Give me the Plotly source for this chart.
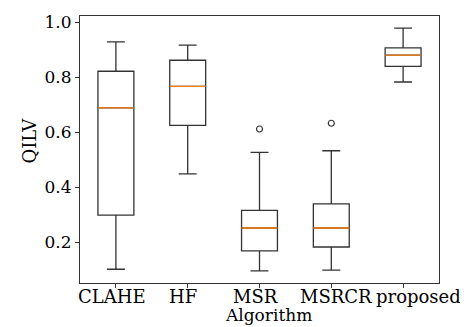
import plotly.graph_objects as go

categories = ["CLAHE", "HF", "MSR", "MSRCR", "proposed"]
lower_whisker = [0.102, 0.449, 0.096, 0.099, 0.783]
q1_vals = [0.299, 0.625, 0.169, 0.183, 0.840]
median_vals = [0.689, 0.767, 0.252, 0.252, 0.881]
q3_vals = [0.822, 0.862, 0.316, 0.340, 0.907]
upper_whisker = [0.929, 0.917, 0.527, 0.533, 0.979]
outlier_cats = ["MSR", "MSRCR"]
outlier_vals = [0.612, 0.633]
y_ticks = [0.2, 0.4, 0.6, 0.8, 1.0]

xpos = {c: i + 1 for i, c in enumerate(categories)}
label_shift = [-3.5, -5, -4, 5, 15]
FONT = "DejaVu Serif"
LINE = "#333333"

fig = go.Figure()
fig.add_trace(go.Box(
    x=[xpos[c] for c in categories],
    q1=q1_vals, median=median_vals, q3=q3_vals,
    lowerfence=lower_whisker, upperfence=upper_whisker,
    width=0.5, whiskerwidth=0.5,
    fillcolor="rgba(0,0,0,0)",
    line=dict(color=LINE, width=1.3),
    boxpoints=False, hoverinfo="skip", showlegend=False,
))
for c, m in zip(categories, median_vals):
    fig.add_trace(go.Scatter(
        x=[xpos[c] - 0.25, xpos[c] + 0.25], y=[m, m], mode="lines",
        line=dict(color="#ff7f0e", width=1.3), showlegend=False, hoverinfo="skip",
    ))
fig.add_trace(go.Scatter(
    x=[xpos[c] for c in outlier_cats], y=outlier_vals, mode="markers",
    marker=dict(symbol="circle-open", size=6, color=LINE, line=dict(width=1.2)),
    showlegend=False, hoverinfo="skip",
))

annotations = []
for c, s in zip(categories, label_shift):
    annotations.append(dict(
        text=c, x=xpos[c], xref="x", y=0, yref="paper",
        xanchor="center", yanchor="top", xshift=s, yshift=-1,
        showarrow=False, font=dict(family=FONT, size=18, color="black"),
    ))
annotations.append(dict(
    text="Algorithm", x=0.5, xref="paper", y=0, yref="paper",
    xanchor="center", yanchor="top", xshift=8.5, yshift=-20,
    showarrow=False, font=dict(family=FONT, size=17, color="black"),
))
annotations.append(dict(
    text="QILV", x=0, xref="paper", y=0.5, yref="paper", textangle=-90,
    xanchor="center", yanchor="middle", xshift=-51, yshift=9,
    showarrow=False, font=dict(family=FONT, size=18, color="black"),
))

fig.update_layout(
    width=468, height=327,
    margin=dict(l=72, r=37, t=8, b=52),
    plot_bgcolor="white", paper_bgcolor="white",
    font=dict(family=FONT, size=17, color="black"),
    annotations=annotations,
    xaxis=dict(
        range=[0.5, 5.5], tickmode="array",
        tickvals=[xpos[c] for c in categories], showticklabels=False,
        automargin=False,
        ticks="outside", ticklen=4, tickcolor=LINE,
        showline=True, linecolor=LINE, linewidth=1, mirror=True,
        showgrid=False, zeroline=False,
    ),
    yaxis=dict(
        range=[0.052, 1.023], tickmode="array", tickvals=y_ticks,
        ticktext=[f"{v:.1f}" for v in y_ticks],
        ticks="outside", ticklen=4, tickcolor=LINE, automargin=False,
        showline=True, linecolor=LINE, linewidth=1, mirror=True,
        showgrid=False, zeroline=False,
    ),
)
fig.write_html("out.html")
